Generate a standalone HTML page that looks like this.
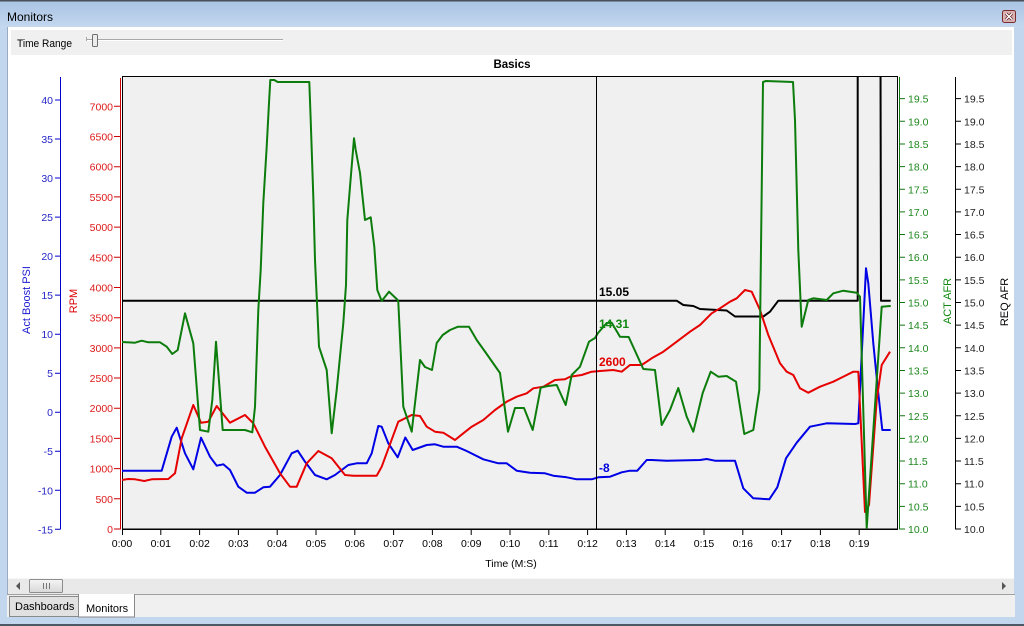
<!DOCTYPE html>
<html><head><meta charset="utf-8"><style>
html,body{margin:0;padding:0;width:1024px;height:626px;overflow:hidden;background:#c2d6ee;}
svg{display:block;font-family:"Liberation Sans",sans-serif;}
</style></head><body>
<svg width="1024" height="626" viewBox="0 0 1024 626" xmlns="http://www.w3.org/2000/svg">
<defs>
<linearGradient id="tb" x1="0" y1="0" x2="0" y2="1"><stop offset="0" stop-color="#a9c3e3"/><stop offset="1" stop-color="#c4d8ef"/></linearGradient>
<linearGradient id="th" x1="0" y1="0" x2="0" y2="1"><stop offset="0" stop-color="#f4f4f4"/><stop offset="1" stop-color="#d8d8d8"/></linearGradient>
<clipPath id="pc"><rect x="122" y="76" width="776" height="453"/></clipPath>
</defs>
<!-- frame -->
<rect x="0" y="0" width="1024" height="626" fill="#c2d6ee"/>
<rect x="0" y="0" width="1024" height="28" fill="url(#tb)"/>
<rect x="0" y="0" width="1024" height="1.5" fill="#4a4f58"/>
<rect x="0" y="624" width="1024" height="2" fill="#4d5866"/>
<text x="7" y="21" font-size="12" fill="#000">Monitors</text>
<rect x="1002.5" y="10.5" width="13" height="12" rx="2" fill="#d9b3b3" stroke="#7a2b2b"/>
<path d="M1006 13.5 L1012 19.5 M1012 13.5 L1006 19.5" stroke="#5a1a1a" stroke-width="3"/>
<path d="M1006 13.5 L1012 19.5 M1012 13.5 L1006 19.5" stroke="#fff" stroke-width="1.5"/>
<!-- client -->
<rect x="7" y="27" width="1007" height="568" fill="#fff"/>
<rect x="7" y="27" width="1" height="568" fill="#9aaac0"/>
<rect x="11" y="30" width="1001" height="25" fill="#f0f0f0"/>
<text x="17" y="47" font-size="11" fill="#000" textLength="55" lengthAdjust="spacingAndGlyphs">Time Range</text>
<rect x="86" y="39" width="197" height="1" fill="#a8a8a8"/>
<rect x="86" y="40" width="197" height="1" fill="#ffffff"/>
<rect x="86" y="37" width="1" height="4" fill="#a8a8a8"/>
<rect x="92.5" y="34.5" width="5" height="12" rx="1" fill="#ececec" stroke="#6f6f6f"/>
<!-- scrollbar -->
<rect x="8" y="578" width="1006" height="16" fill="#e9e9e9"/>
<rect x="8" y="578" width="1006" height="1" fill="#f6f6f6"/>
<path d="M20 582 L16 586 L20 590 Z" fill="#555"/>
<path d="M1002 582 L1006 586 L1002 590 Z" fill="#555"/>
<rect x="29.5" y="579.5" width="33" height="13" rx="1" fill="url(#th)" stroke="#8d8d8d"/>
<path d="M43.5 583 V589 M46.5 583 V589 M49.5 583 V589" stroke="#777" stroke-width="1"/>
<!-- tabs -->
<rect x="7" y="594" width="1008" height="23" fill="#f0f0f0"/>
<rect x="7" y="594" width="1008" height="1" fill="#a0a0a0"/>
<rect x="9.5" y="596.5" width="69" height="20" fill="#e1e1e1" stroke="#8a8a8a"/>
<text x="15" y="610" font-size="11" fill="#000">Dashboards</text>
<rect x="78.5" y="594.5" width="56" height="22.5" fill="#fff" stroke="#8a8a8a"/>
<rect x="79" y="594" width="55" height="2" fill="#fff"/>
<text x="86" y="612" font-size="11" fill="#000">Monitors</text>

<!-- plot -->
<rect x="122.5" y="76.5" width="775" height="452.5" fill="#f0f0f0" stroke="#000" stroke-width="1"/>
<rect x="122" y="528.5" width="776" height="1.5" fill="#000"/>
<text x="512" y="68" font-size="11.5" font-weight="bold" text-anchor="middle" fill="#000">Basics</text>

<!-- blue axis -->
<g stroke="#0000cc" stroke-width="1">
<path d="M60.5 77 V529.5"/>
<path d="M55 529.3 H60 M55 490.3 H60 M55 451.2 H60 M55 412.2 H60 M55 373.2 H60 M55 334.2 H60 M55 295.1 H60 M55 256.1 H60 M55 217.1 H60 M55 178 H60 M55 139 H60 M55 100 H60"/>
</g>
<g font-size="10.5" fill="#2626c6" text-anchor="end">
<text x="53" y="533.3">-15</text><text x="53" y="494.3">-10</text><text x="53" y="455.2">-5</text><text x="53" y="416.2">0</text><text x="53" y="377.2">5</text><text x="53" y="338.2">10</text><text x="53" y="299.1">15</text><text x="53" y="260.1">20</text><text x="53" y="221.1">25</text><text x="53" y="182">30</text><text x="53" y="143">35</text><text x="53" y="104">40</text>
</g>
<text transform="translate(30,300) rotate(-90)" font-size="11" fill="#1a1ad0" text-anchor="middle">Act Boost PSI</text>

<!-- red axis -->
<g stroke="#cc0000" stroke-width="1">
<path d="M120.5 78 V529.5"/>
<path d="M114 529 H120 M114 498.8 H120 M114 468.6 H120 M114 438.4 H120 M114 408.2 H120 M114 378 H120 M114 347.9 H120 M114 317.7 H120 M114 287.5 H120 M114 257.3 H120 M114 227.1 H120 M114 196.9 H120 M114 166.7 H120 M114 136.5 H120 M114 106.3 H120"/>
</g>
<g font-size="10.5" fill="#dd1a1a" text-anchor="end">
<text x="113" y="533">0</text><text x="113" y="502.8">500</text><text x="113" y="472.6">1000</text><text x="113" y="442.4">1500</text><text x="113" y="412.2">2000</text><text x="113" y="382">2500</text><text x="113" y="351.9">3000</text><text x="113" y="321.7">3500</text><text x="113" y="291.5">4000</text><text x="113" y="261.3">4500</text><text x="113" y="231.1">5000</text><text x="113" y="200.9">5500</text><text x="113" y="170.7">6000</text><text x="113" y="140.5">6500</text><text x="113" y="110.3">7000</text>
</g>
<text transform="translate(77,301) rotate(-90)" font-size="11" fill="#dd0000" text-anchor="middle">RPM</text>

<!-- green axis -->
<g stroke="#117711" stroke-width="1">
<path d="M899.5 77 V529.5"/>
<path d="M900 529 H905 M900 506.35 H905 M900 483.7 H905 M900 461.05 H905 M900 438.4 H905 M900 415.75 H905 M900 393.1 H905 M900 370.45 H905 M900 347.8 H905 M900 325.15 H905 M900 302.5 H905 M900 279.85 H905 M900 257.2 H905 M900 234.55 H905 M900 211.9 H905 M900 189.25 H905 M900 166.6 H905 M900 143.95 H905 M900 121.3 H905 M900 98.65 H905"/>
</g>
<g font-size="10.5" fill="#1e881e">
<text x="908" y="533">10.0</text><text x="908" y="510.35">10.5</text><text x="908" y="487.7">11.0</text><text x="908" y="465.05">11.5</text><text x="908" y="442.4">12.0</text><text x="908" y="419.75">12.5</text><text x="908" y="397.1">13.0</text><text x="908" y="374.45">13.5</text><text x="908" y="351.8">14.0</text><text x="908" y="329.15">14.5</text><text x="908" y="306.5">15.0</text><text x="908" y="283.85">15.5</text><text x="908" y="261.2">16.0</text><text x="908" y="238.55">16.5</text><text x="908" y="215.9">17.0</text><text x="908" y="193.25">17.5</text><text x="908" y="170.6">18.0</text><text x="908" y="147.95">18.5</text><text x="908" y="125.3">19.0</text><text x="908" y="102.65">19.5</text>
</g>
<text transform="translate(951,301) rotate(-90)" font-size="11" fill="#118811" text-anchor="middle">ACT AFR</text>

<!-- black axis -->
<g stroke="#000" stroke-width="1">
<path d="M955.5 77 V529.5"/>
<path d="M956 529 H961 M956 506.35 H961 M956 483.7 H961 M956 461.05 H961 M956 438.4 H961 M956 415.75 H961 M956 393.1 H961 M956 370.45 H961 M956 347.8 H961 M956 325.15 H961 M956 302.5 H961 M956 279.85 H961 M956 257.2 H961 M956 234.55 H961 M956 211.9 H961 M956 189.25 H961 M956 166.6 H961 M956 143.95 H961 M956 121.3 H961 M956 98.65 H961"/>
</g>
<g font-size="10.5" fill="#222">
<text x="964" y="533">10.0</text><text x="964" y="510.35">10.5</text><text x="964" y="487.7">11.0</text><text x="964" y="465.05">11.5</text><text x="964" y="442.4">12.0</text><text x="964" y="419.75">12.5</text><text x="964" y="397.1">13.0</text><text x="964" y="374.45">13.5</text><text x="964" y="351.8">14.0</text><text x="964" y="329.15">14.5</text><text x="964" y="306.5">15.0</text><text x="964" y="283.85">15.5</text><text x="964" y="261.2">16.0</text><text x="964" y="238.55">16.5</text><text x="964" y="215.9">17.0</text><text x="964" y="193.25">17.5</text><text x="964" y="170.6">18.0</text><text x="964" y="147.95">18.5</text><text x="964" y="125.3">19.0</text><text x="964" y="102.65">19.5</text>
</g>
<text transform="translate(1008,302) rotate(-90)" font-size="11" fill="#000" text-anchor="middle">REQ AFR</text>

<!-- x axis -->
<g stroke="#000" stroke-width="1">
<path d="M122.5 529 V535 M160.8 529 V535 M199.6 529 V535 M238.4 529 V535 M277.2 529 V535 M316 529 V535 M354.8 529 V535 M393.6 529 V535 M432.4 529 V535 M471.2 529 V535 M510 529 V535 M548.8 529 V535 M587.6 529 V535 M626.4 529 V535 M665.2 529 V535 M704 529 V535 M742.8 529 V535 M781.6 529 V535 M820.4 529 V535 M859.2 529 V535"/>
</g>
<g font-size="10.5" fill="#000" text-anchor="middle">
<text x="122" y="547">0:00</text><text x="160.8" y="547">0:01</text><text x="199.6" y="547">0:02</text><text x="238.4" y="547">0:03</text><text x="277.2" y="547">0:04</text><text x="316" y="547">0:05</text><text x="354.8" y="547">0:06</text><text x="393.6" y="547">0:07</text><text x="432.4" y="547">0:08</text><text x="471.2" y="547">0:09</text><text x="510" y="547">0:10</text><text x="548.8" y="547">0:11</text><text x="587.6" y="547">0:12</text><text x="626.4" y="547">0:13</text><text x="665.2" y="547">0:14</text><text x="704" y="547">0:15</text><text x="742.8" y="547">0:16</text><text x="781.6" y="547">0:17</text><text x="820.4" y="547">0:18</text><text x="859.2" y="547">0:19</text>
<text x="511" y="567">Time (M:S)</text>
</g>

<!-- series -->
<g clip-path="url(#pc)" fill="none" stroke-width="2" stroke-linejoin="round">
<polyline stroke="#000" points="122,300.7 676.7,300.7 683.3,305 693.3,306 700,309 726.7,310.5 735,316.5 763.3,316.5 770,311.7 778.3,300.7 857.7,300.7 857.7,60 880.5,60 881,300.7 890.7,300.7"/>
<polyline stroke="#0000e6" points="122,470.7 161.7,470.7 171.7,436.7 176.7,427.7 185,453.3 193.3,469.3 201,437.7 210,456.7 216.7,465.7 223.3,464.3 230,470 238.3,486.7 246.7,492.7 255,492.7 263.3,487.3 270,486.7 280,475 291.7,453.3 297.7,450.7 305,461.7 315,475 326.7,479.3 335,475 348.3,465 356.7,463.3 366.7,463.3 371.7,453.3 378.3,426 381.7,426.7 388.3,443.3 397.7,457.3 405.3,437.5 412.7,450 426.7,445 435,444.3 443.3,446.7 456.7,446.7 466.7,451 483.3,459.3 498.3,463.3 506.7,463.3 516.7,470.7 530,472.7 545,473.3 553.3,475.7 566.7,477.3 576.7,479.3 591.7,479.3 598.3,477.3 610,476.7 621.7,472.3 630,470.7 637.3,470.7 646.7,460 651.7,460 666.7,460.7 700,460 706.7,459 715,460.7 735,460.7 743.3,488.3 753.3,498.3 769.3,499.3 777.3,487.3 786,458.3 796.7,442.7 810,426.7 826.7,423.3 855,424 858.3,423.3 866,268.3 868.3,283.3 873.3,343.3 878.3,393.3 882.3,430 890.7,430"/>
<polyline stroke="#e60000" points="122,480 128.3,479 135,479.3 144.3,481 151.7,479.3 168.3,479 175,473.3 181.7,438.3 193.3,405 201,422.7 208.3,421.7 216.7,406 230,422.7 245,415 253.3,423.3 265,446.7 280,473.3 290,486.7 296.7,486.7 306.7,463.3 318.3,451 331.7,458.3 345,475 353.3,475.7 376.7,475.7 381.7,466.7 398.3,421.7 411.7,415 420,416 426.7,426.7 435,431.7 443.3,432.7 455,440 463.3,433.3 471.7,426.7 483.3,420 495,410 506.7,401.7 516.7,396.7 526.7,393.3 533.3,388.3 543.3,386.7 555,380 565,379.3 570,376.7 581.7,375 591.7,371.7 600,371 613.3,370 621.7,371.7 630,365 641.7,365 651.7,358.3 663.3,351.7 676.7,341.7 690,331.7 700,325 711.7,313.3 720,308.3 730,301.7 736.7,298.3 745,290 751.7,291.7 760,310 768.3,335 780,363.3 786.7,371.7 793.3,375 800,388.3 808.3,392.7 820,386.7 833.3,381.7 846.7,375 853.3,371.7 858.3,371.7 859,385 865,512 869,505 876.7,400 881.7,365 890,351.7"/>
<polyline stroke="#0c7c0c" points="122,342 135,342.7 141.7,340.7 148.3,342.3 160,342.3 166.7,346.7 172.3,354 177.7,350 185,313.3 193.3,343.3 200,430 208.3,431.7 212.3,400 216,341.7 222.7,430 245,430 252.3,432.3 255,406.7 258.3,310 260.7,270 263.3,203 266.7,146.7 269,103 270.3,80 274.3,80 277.7,82 309.3,82 310.7,120 313.3,196.7 315,260 319,346.7 326.7,370 331.7,433.3 336.7,390 343.3,323.3 346,285 347.3,220 350,186.7 354,138.3 355.7,150 360,173 365,220 370.7,217.3 374.3,246.7 377.3,290 381.7,301 389,291.7 397.7,300 398.3,302 403.3,406.7 411.7,431.7 420,360 425,367 432,370 436.7,343 442.7,335 450,330 458,326.7 469,326.7 476.7,340 486,353 500,373 508,431.7 515,408 524,408 532.7,430 540.7,387.7 548,386 556.7,385 565.7,405 571.7,375 580,366.7 589,341.7 595,338 598,333 606.7,323 611.7,322.7 620,336.7 628.7,337 643.3,369 655,370 661.7,425 670,410 678.3,388 686.7,416.7 693.3,431.7 702.7,393 710.7,371.7 718.3,376.7 726.7,376 736,381.7 744.3,434 753.3,430 759.3,390 763,82 766,81 793,82 795,120 798.3,250 801.7,326.7 808.3,300 813.3,298.3 826.7,300 833.3,293.3 843.3,290.7 856.7,292.7 860,296.7 866.7,528 881.7,306.7 890.7,306"/>
</g>

<!-- cursor -->
<path d="M596.5 76 V529" stroke="#000" stroke-width="1"/>
<g font-size="12" font-weight="bold">
<text x="599" y="296" fill="#000">15.05</text>
<text x="599" y="328" fill="#118811">14.31</text>
<text x="599" y="366" fill="#e00000">2600</text>
<text x="599" y="472" fill="#0000dd">-8</text>
</g>
</svg>
</body></html>
